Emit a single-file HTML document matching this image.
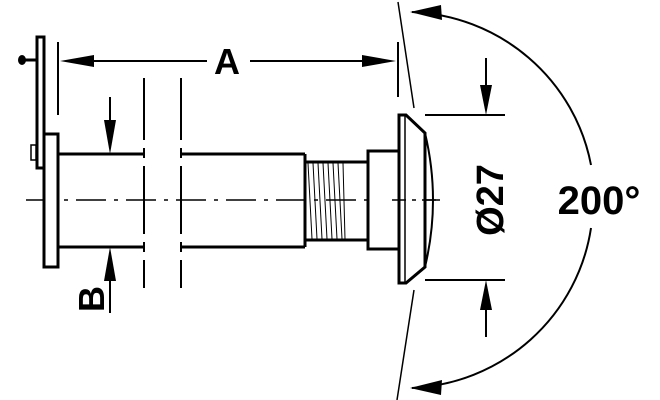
<!DOCTYPE html>
<html><head><style>body{margin:0;background:#fff}svg{display:block}</style></head><body>
<svg width="660" height="400" viewBox="0 0 660 400" xmlns="http://www.w3.org/2000/svg" font-family="Liberation Sans, sans-serif">
<g fill="none" stroke="#000">
<path d="M26 200H440" stroke-width="1.5" stroke-dasharray="30,8,4,8"/>
<rect x="37" y="37" width="7" height="131" stroke-width="3" fill="#fff"/>
<rect x="44" y="134" width="14" height="133" stroke-width="3" fill="#fff"/>
<rect x="31" y="145" width="5" height="15" stroke-width="1.5"/>
<path d="M24 60H36" stroke-width="3"/>
<path d="M144 154V154"/>
<path d="M58 154H144M58 247H144M181 154H305M181 247H305M305 154V247" stroke-width="3"/>
<path d="M144 78V140M144 148V158M144 166V234M144 242V252M144 260V288M181 78V140M181 148V158M181 166V234M181 242V252M181 260V288" stroke-width="2"/>
<rect x="305" y="162" width="63" height="78" stroke-width="3"/>
<path d="M308 163L312 239M313 163L317 239M318 163L322 239M323 163L327 239M328 163L332 239M333 163L337 239M338 163L342 239M343 163L345 239" stroke-width="1"/>
<rect x="368" y="151" width="31" height="98" stroke-width="3" fill="#fff"/>
<path d="M399 115H406L425 133V267L406 283H399Z" stroke-width="3" fill="#fff"/>
<path d="M405 116V282" stroke-width="1.5"/>
<path d="M425 133Q441 200 425 267" stroke-width="2"/>
<path d="M392 200H438" stroke-width="1.5" stroke-dasharray="14,6,4,6"/>
<path d="M58 42V115M398 42V97" stroke-width="2"/>
<path d="M92 61H207M250 61H380" stroke-width="2"/>
<path d="M398 2L414 108M414 290L397 400" stroke-width="1.5"/>
<path d="M412 12A190 188 0 0 1 591 165M591 228A190 188 0 0 1 412 388" stroke-width="2"/>
<path d="M425 115H505M425 280H505M486 58V100M486 295V337" stroke-width="2"/>
<path d="M110 97V140M110 262V313" stroke-width="2"/>
</g>
<g fill="#000">
<ellipse cx="22" cy="60" rx="4" ry="5"/>
<path d="M60 61L94 55V67Z"/>
<path d="M396 61L362 55V67Z"/>
<path d="M486 115L480 85H492Z"/>
<path d="M486 280L480 310H492Z"/>
<path d="M110 154L104 120H116Z"/>
<path d="M110 247L104 281H116Z"/>
<path d="M410 12L441 5L442 20Z"/>
<path d="M410 388L441 395L442 380Z"/>
</g>
<text x="227" y="74" font-size="36" font-weight="bold" text-anchor="middle">A</text>
<text x="599" y="214" font-size="40" font-weight="bold" text-anchor="middle">200°</text>
<text transform="translate(503,200) rotate(-90)" font-size="38" font-weight="bold" text-anchor="middle">Ø27</text>
<text transform="translate(104,299) rotate(-90)" font-size="36" font-weight="bold" text-anchor="middle">B</text>
</svg>
</body></html>
